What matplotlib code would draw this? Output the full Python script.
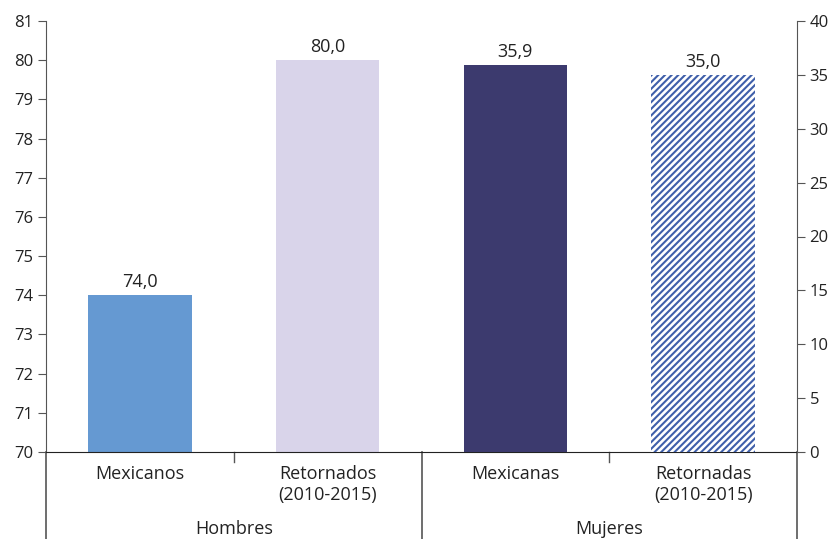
import matplotlib
matplotlib.use("Agg")
import matplotlib.pyplot as plt

plt.rcParams['font.family'] = ['Open Sans', 'DejaVu Sans']
plt.rcParams['hatch.linewidth'] = 1.5

# data
categorias = ["Mexicanos", "Retornados\n(2010-2015)", "Mexicanas", "Retornadas\n(2010-2015)"]
grupos = ["Hombres", "Mujeres"]
hombres = [74.0, 80.0]      # eje izquierdo
mujeres = [35.9, 35.0]      # eje derecho
etiquetas = ["74,0", "80,0", "35,9", "35,0"]
izq_ticks = list(range(70, 82))
der_ticks = list(range(0, 45, 5))

colores = ["#6599d2", "#d9d4ea", "#3c3a6e", "white"]
gris = "#555555"
txt = "#222222"

fig = plt.figure(figsize=(8.35, 5.39), dpi=100)
ax = fig.add_axes([46/835, 1-452/539, (797-46)/835, (452-21)/539])
ax2 = ax.twinx()

ax.set_xlim(0, 4)
ax.set_ylim(70, 81)
ax2.set_ylim(0, 40)

w = 0.55
x = [0.5, 1.5, 2.5, 3.5]
ax.bar(x[:2], [v - 70 for v in hombres], bottom=70, width=w, color=colores[:2])
ax2.bar(x[2], mujeres[0], width=w, color=colores[2])
ax2.bar(x[3], mujeres[1], width=w, color="white", edgecolor="#3f5faa",
        linewidth=0, hatch="/////")

for i in range(2):
    ax.annotate(etiquetas[i], (x[i], hombres[i]), xytext=(0, 3), textcoords="offset points",
                ha="center", va="bottom", fontsize=13, color=txt)
for i in range(2):
    ax2.annotate(etiquetas[i+2], (x[i+2], mujeres[i]), xytext=(0, 3), textcoords="offset points",
                 ha="center", va="bottom", fontsize=13, color=txt)

ax.set_yticks(izq_ticks)
ax2.set_yticks(der_ticks)
ax.tick_params(axis="y", length=6, color=gris, labelsize=12, labelcolor=txt, pad=3)
ax2.tick_params(axis="y", length=6, color=gris, labelsize=12, labelcolor=txt, pad=3)
ax.set_xticks([])

for a in (ax, ax2):
    a.spines["top"].set_visible(False)
    a.spines["left"].set_color(gris)
    a.spines["right"].set_color(gris)
    a.spines["bottom"].set_color(txt)
ax.spines["right"].set_visible(False)
ax2.spines["left"].set_visible(False)
ax2.spines["bottom"].set_visible(False)

# lineas bajo el eje
fondo = -(539 - 452) / (452 - 21)
for xv in (0, 0.5, 1):
    ax.plot([xv, xv], [0, fondo], transform=ax.transAxes, color=gris, lw=1.2, clip_on=False)
for xv in (0.25, 0.75):
    ax.plot([xv, xv], [0, -10/431], transform=ax.transAxes, color=gris, lw=1.0, clip_on=False)

for xi, c in zip(x, categorias):
    ax.text(xi / 4, -13/431, c, transform=ax.transAxes, ha="center", va="top",
            fontsize=13, color=txt, linespacing=1.2)
for i, g in enumerate(grupos):
    ax.text(0.25 + 0.5 * i, -68/431, g, transform=ax.transAxes, ha="center", va="top",
            fontsize=13, color=txt)

fig.savefig("out.png", dpi=100)
